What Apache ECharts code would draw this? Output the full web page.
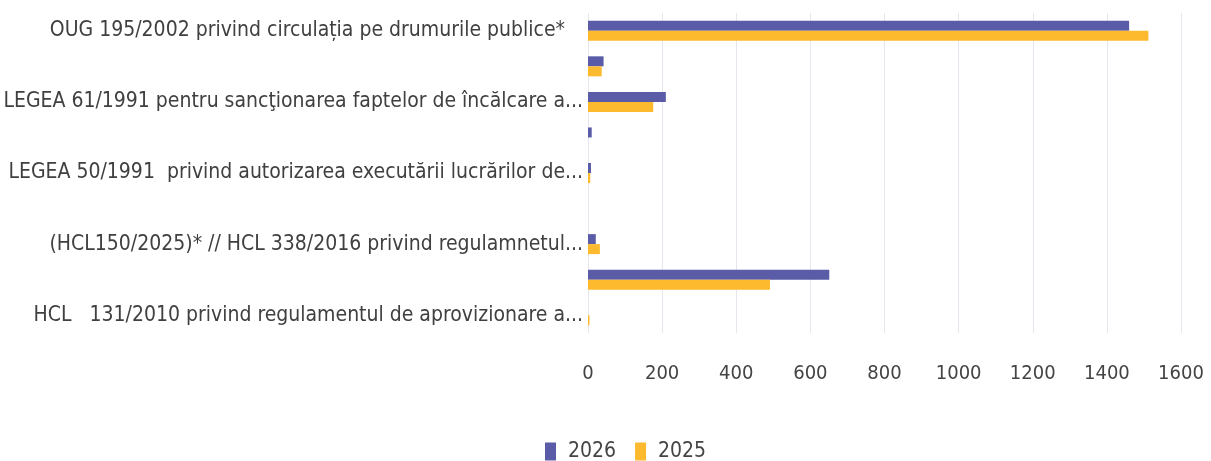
<!DOCTYPE html>
<html><head><meta charset="utf-8">
<script src="https://cdn.jsdelivr.net/npm/echarts@6/dist/echarts.min.js"></script>
<style>html,body{margin:0;padding:0;background:#fff}#c{width:1211px;height:461px}</style>
</head><body><div id="c"></div>
<script>
const categories = [
  'OUG 195/2002 privind circulația pe drumurile publice*',
  '',
  'LEGEA 61/1991 pentru sancţionarea faptelor de încălcare a...',
  '',
  'LEGEA 50/1991  privind autorizarea executării lucrărilor de...',
  '',
  '(HCL150/2025)* // HCL 338/2016 privind regulamnetul...',
  '',
  'HCL   131/2010 privind regulamentul de aprovizionare a...'
];
const values2026 = [1460, 42, 210, 10, 8, 0, 21, 651, 0];
const values2025 = [1512, 37, 176, 0, 6, 0, 32, 491, 4];
const xTicks = { min: 0, max: 1600, interval: 200 };

const chart = echarts.init(document.getElementById('c'));
const font = '"DejaVu Sans Condensed", "Liberation Sans Narrow", sans-serif';
const labelStyle = { fontSize: 21, color: '#404040', fontFamily: font };
chart.setOption({
  animation: false,
  textStyle: { fontFamily: font },
  legend: {
    data: ['2026', '2025'],
    top: 436, left: 540,
    itemWidth: 11, itemHeight: 18, itemGap: 19,
    icon: 'rect',
    textStyle: { fontSize: 21, color: '#444', fontFamily: font, padding: [0, 0, 0, 7] }
  },
  grid: { left: 588, right: 30, top: 13, bottom: 128 },
  xAxis: {
    type: 'value', min: xTicks.min, max: xTicks.max, interval: xTicks.interval,
    axisLine: { show: false }, axisTick: { show: false },
    axisLabel: { fontSize: 20, color: '#444', margin: 31, fontFamily: font,
      formatter: v => String(v) },
    splitLine: { lineStyle: { color: '#e6e6ee', width: 1 } }
  },
  yAxis: {
    type: 'category', data: categories, inverse: true,
    axisLine: { show: false }, axisTick: { show: false },
    axisLabel: Object.assign({ interval: 0, margin: 5,
      formatter: (v, i) => i === 0 ? '{p|' + v + '}' : v,
      rich: { p: Object.assign({ padding: [0, 18, 0, 0] }, labelStyle) } }, labelStyle)
  },
  series: [
    { name: '2026', type: 'bar', data: values2026, barWidth: 10, barGap: '0%', itemStyle: { color: '#5A5CA8' } },
    { name: '2025', type: 'bar', data: values2025, barWidth: 10, barGap: '0%', itemStyle: { color: '#FDBA2E' } }
  ]
});
</script></body></html>
